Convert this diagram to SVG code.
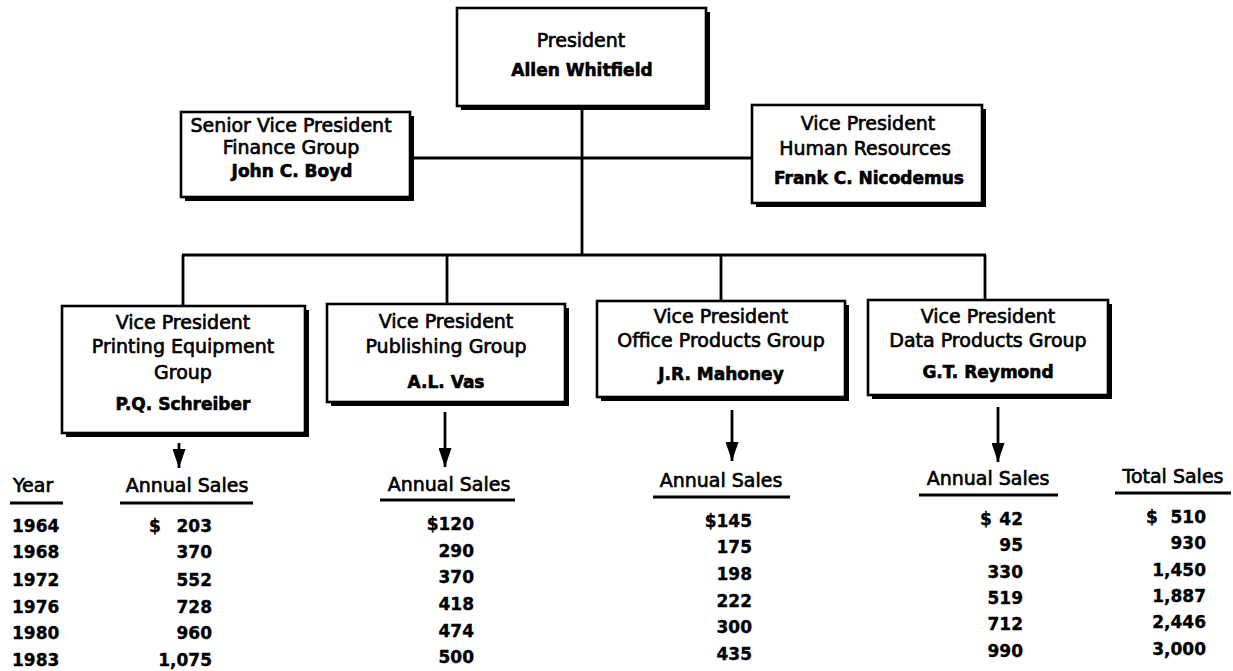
<svg xmlns="http://www.w3.org/2000/svg" width="1233" height="671" viewBox="0 0 1233 671">
<defs>
<style>
.bg{fill:#fff}
.shadow{fill:#000}
.box{fill:#fff;stroke:#000;stroke-width:2.6}
.t{font-family:"DejaVu Sans","Liberation Sans",sans-serif;font-size:19px;text-anchor:middle;fill:#000;stroke:#000;stroke-width:0.65}
.n{font-family:"DejaVu Sans","Liberation Sans",sans-serif;font-size:17px;font-weight:bold;text-anchor:middle;fill:#000;stroke:#000;stroke-width:0.6}
.h{font-family:"DejaVu Sans","Liberation Sans",sans-serif;font-size:19px;fill:#000;stroke:#000;stroke-width:0.65}
.num{font-family:"DejaVu Sans","Liberation Sans",sans-serif;font-size:17px;font-weight:bold;text-anchor:end;fill:#000;stroke:#000;stroke-width:0.35}
.yr{font-family:"DejaVu Sans","Liberation Sans",sans-serif;font-size:17px;font-weight:bold;text-anchor:start;fill:#000;stroke:#000;stroke-width:0.35}
.ln{stroke:#000;stroke-width:2.8;fill:none}
.ul{stroke:#000;stroke-width:3.2}
</style>
<marker id="ah" markerUnits="userSpaceOnUse" markerWidth="20" markerHeight="13" refX="19" refY="6.5" orient="auto">
<path d="M0,0 L19,6.5 L0,13 Z" fill="#000"/>
</marker>
</defs>
<rect class="bg" x="0" y="0" width="1233" height="671"/>

<g id="connectors">
<line class="ln" x1="582" y1="106" x2="582" y2="256"/>
<line class="ln" x1="410" y1="158" x2="752" y2="158"/>
<line class="ln" x1="182" y1="255" x2="986" y2="255"/>
<line class="ln" x1="183" y1="255" x2="183" y2="306"/>
<line class="ln" x1="447" y1="255" x2="447" y2="304"/>
<line class="ln" x1="721" y1="255" x2="721" y2="301"/>
<line class="ln" x1="985" y1="255" x2="985" y2="300"/>
<line class="ln" x1="179" y1="443" x2="179" y2="468" marker-end="url(#ah)"/>
<line class="ln" x1="445" y1="412" x2="445" y2="467" marker-end="url(#ah)"/>
<line class="ln" x1="732" y1="410" x2="732" y2="461" marker-end="url(#ah)"/>
<line class="ln" x1="998" y1="407" x2="998" y2="462" marker-end="url(#ah)"/>
</g>

<g id="president">
<rect class="shadow" x="461" y="12" width="249" height="98"/>
<rect class="box" x="457" y="8" width="249" height="98"/>
<text class="t" x="581" y="47">President</text>
<text class="n" x="582" y="76">Allen Whitfield</text>
</g>

<g id="svp-finance">
<rect class="shadow" x="185" y="116" width="229" height="85"/>
<rect class="box" x="181" y="112" width="229" height="85"/>
<text class="t" x="291" y="132">Senior Vice President</text>
<text class="t" x="291" y="154">Finance Group</text>
<text class="n" x="292" y="177">John C. Boyd</text>
</g>

<g id="vp-hr">
<rect class="shadow" x="756" y="109" width="230" height="98"/>
<rect class="box" x="752" y="105" width="230" height="98"/>
<text class="t" x="868" y="130">Vice President</text>
<text class="t" x="865" y="155">Human Resources</text>
<text class="n" x="869" y="184">Frank C. Nicodemus</text>
</g>

<g id="vp-printing">
<rect class="shadow" x="66" y="310" width="243" height="127"/>
<rect class="box" x="62" y="306" width="243" height="127"/>
<text class="t" x="183" y="329">Vice President</text>
<text class="t" x="183" y="353">Printing Equipment</text>
<text class="t" x="183" y="379">Group</text>
<text class="n" x="183" y="410">P.Q. Schreiber</text>
</g>

<g id="vp-publishing">
<rect class="shadow" x="331" y="308" width="238" height="98"/>
<rect class="box" x="327" y="304" width="238" height="98"/>
<text class="t" x="446" y="328">Vice President</text>
<text class="t" x="446" y="353">Publishing Group</text>
<text class="n" x="446" y="388">A.L. Vas</text>
</g>

<g id="vp-office">
<rect class="shadow" x="601" y="305" width="248" height="96"/>
<rect class="box" x="597" y="301" width="248" height="96"/>
<text class="t" x="721" y="323">Vice President</text>
<text class="t" x="721" y="347">Office Products Group</text>
<text class="n" x="721" y="380">J.R. Mahoney</text>
</g>

<g id="vp-data">
<rect class="shadow" x="872" y="304" width="240" height="95"/>
<rect class="box" x="868" y="300" width="240" height="95"/>
<text class="t" x="988" y="323">Vice President</text>
<text class="t" x="988" y="347">Data Products Group</text>
<text class="n" x="988" y="378">G.T. Reymond</text>
</g>

<g id="table">
<text class="h" x="13" y="492">Year</text>
<line class="ul" x1="10" y1="503" x2="63" y2="503"/>
<text class="yr" x="12" y="532">1964</text>
<text class="yr" x="12" y="558">1968</text>
<text class="yr" x="12" y="586">1972</text>
<text class="yr" x="12" y="613">1976</text>
<text class="yr" x="12" y="639">1980</text>
<text class="yr" x="12" y="666">1983</text>

<text class="h" x="187" y="492" text-anchor="middle">Annual Sales</text>
<line class="ul" x1="120" y1="503" x2="253" y2="503"/>
<text class="yr" x="149" y="532">$</text>
<text class="num" x="212" y="532">203</text>
<text class="num" x="212" y="558">370</text>
<text class="num" x="212" y="586">552</text>
<text class="num" x="212" y="613">728</text>
<text class="num" x="212" y="639">960</text>
<text class="num" x="212" y="666">1,075</text>

<text class="h" x="449" y="491" text-anchor="middle">Annual Sales</text>
<line class="ul" x1="380" y1="500" x2="515" y2="500"/>
<text class="num" x="474" y="530">$120</text>
<text class="num" x="474" y="557">290</text>
<text class="num" x="474" y="583">370</text>
<text class="num" x="474" y="610">418</text>
<text class="num" x="474" y="637">474</text>
<text class="num" x="474" y="663">500</text>

<text class="h" x="721" y="487" text-anchor="middle">Annual Sales</text>
<line class="ul" x1="653" y1="497" x2="790" y2="497"/>
<text class="num" x="752" y="527">$145</text>
<text class="num" x="752" y="553">175</text>
<text class="num" x="752" y="580">198</text>
<text class="num" x="752" y="607">222</text>
<text class="num" x="752" y="633">300</text>
<text class="num" x="752" y="660">435</text>

<text class="h" x="988" y="485" text-anchor="middle">Annual Sales</text>
<line class="ul" x1="919" y1="495" x2="1058" y2="495"/>
<text class="yr" x="980" y="525">$</text>
<text class="num" x="1023" y="525">42</text>
<text class="num" x="1023" y="551">95</text>
<text class="num" x="1023" y="578">330</text>
<text class="num" x="1023" y="604">519</text>
<text class="num" x="1023" y="630">712</text>
<text class="num" x="1023" y="657">990</text>

<text class="h" x="1173" y="483" text-anchor="middle">Total Sales</text>
<line class="ul" x1="1115" y1="493" x2="1231" y2="493"/>
<text class="yr" x="1146" y="523">$</text>
<text class="num" x="1206" y="523">510</text>
<text class="num" x="1206" y="549">930</text>
<text class="num" x="1206" y="576">1,450</text>
<text class="num" x="1206" y="602">1,887</text>
<text class="num" x="1206" y="628">2,446</text>
<text class="num" x="1206" y="655">3,000</text>
</g>
</svg>
